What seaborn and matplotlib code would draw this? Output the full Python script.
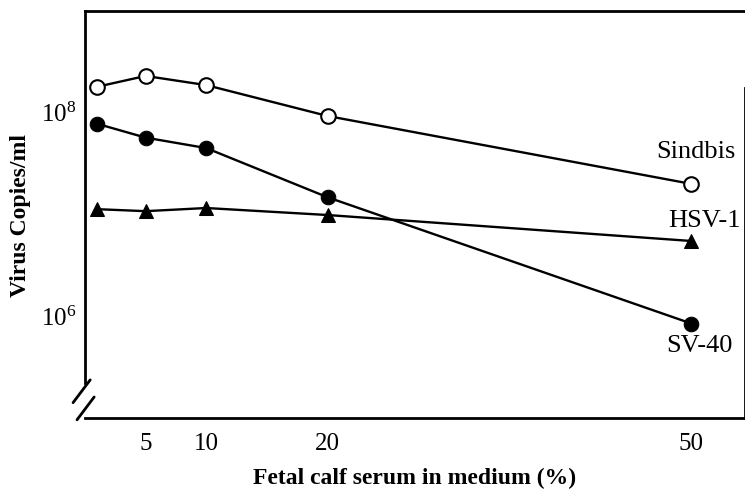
import numpy as np
import pandas as pd
import matplotlib
matplotlib.use("Agg")
import matplotlib.pyplot as plt
import seaborn as sns

# ---- data ----
serum_pct = [1, 5, 10, 20, 50]
sindbis = [1.8e8, 2.3e8, 1.87e8, 9.3e7, 2.0e7]
sv40 = [7.8e7, 5.7e7, 4.5e7, 1.48e7, 8.5e5]
hsv1 = [1.13e7, 1.08e7, 1.16e7, 9.9e6, 5.5e6]
x_ticks = [5, 10, 20, 50]
series_names = ["Sindbis", "HSV-1", "SV-40"]

sns.set_style("white")
plt.rcParams["font.family"] = ["Liberation Serif", "DejaVu Serif"]
plt.rcParams["text.color"] = "black"
plt.rcParams["axes.labelcolor"] = "black"
plt.rcParams["xtick.color"] = "black"
plt.rcParams["ytick.color"] = "black"
plt.rcParams["mathtext.fontset"] = "custom"
plt.rcParams["mathtext.rm"] = "Liberation Serif"
plt.rcParams["mathtext.it"] = "Liberation Serif:italic"
plt.rcParams["mathtext.bf"] = "Liberation Serif:bold"

df = pd.DataFrame({
    "serum": serum_pct * 3,
    "copies": sindbis + hsv1 + sv40,
    "virus": [series_names[0]] * 5 + [series_names[1]] * 5 + [series_names[2]] * 5,
})

fig = plt.figure(figsize=(7.45, 4.99), dpi=100)
ax = fig.add_axes([0.114, 0.162, 0.8857, 0.816])

styles = {
    "Sindbis": dict(marker="o", markerfacecolor="white", markeredgecolor="black",
                    markeredgewidth=1.5, markersize=10.5),
    "HSV-1": dict(marker="^", markerfacecolor="black", markeredgecolor="black",
                  markersize=10.5),
    "SV-40": dict(marker="o", markerfacecolor="black", markeredgecolor="black",
                  markersize=10.5),
}
for name in series_names:
    sub = df[df["virus"] == name]
    sns.lineplot(data=sub, x="serum", y="copies", ax=ax, color="black",
                 linewidth=1.7, legend=False, **styles[name])

ax.set_yscale("log")
ax.set_xlim(0, 54.4)
ax.set_ylim(1e5, 1e9)

ax.set_xticks(x_ticks)
ax.set_xticklabels([str(v) for v in x_ticks])
ax.set_yticks([1e6, 1e7, 1e8])
ax.set_yticklabels([r"$\mathrm{10^{6}}$", "", r"$\mathrm{10^{8}}$"])
ax.yaxis.set_minor_locator(matplotlib.ticker.NullLocator())

ax.tick_params(axis="x", direction="in", length=4, width=1.2, pad=11,
               labelsize=18, colors="black")
ax.tick_params(axis="y", direction="inout", length=6, width=1.2, pad=3,
               labelsize=18, colors="black")

for s in ax.spines.values():
    s.set_color("black")
    s.set_linewidth(2)
ax.spines["left"].set_bounds(2.2e5, 1e9)
ax.spines["right"].set_bounds(1e5, 1.75e8)

# axis-break marks (decoration)
kw = dict(transform=ax.transAxes, color="black", linewidth=2, clip_on=False)
ax.plot([-0.018, 0.008], [0.038, 0.094], **kw)
ax.plot([-0.012, 0.014], [-0.004, 0.052], **kw)

ax.set_xlabel("Fetal calf serum in medium (%)", fontsize=17, fontweight="bold",
              color="black")
ax.xaxis.set_label_coords(0.5, -0.122)
ax.set_ylabel("Virus Copies/ml", fontsize=17, fontweight="bold", color="black")
ax.yaxis.set_label_coords(-0.082, 0.497)

# series labels next to last points
ax.annotate("Sindbis", (serum_pct[-1], sindbis[-1]), xytext=(3, 23),
            textcoords="offset points", ha="center", va="center", fontsize=19,
            color="black", annotation_clip=False)
ax.annotate("HSV-1", (serum_pct[-1], hsv1[-1]), xytext=(-16.5, 14.5),
            textcoords="offset points", ha="left", va="center", fontsize=19,
            color="black", annotation_clip=False)
ax.annotate("SV-40", (serum_pct[-1], sv40[-1]), xytext=(6, -16),
            textcoords="offset points", ha="center", va="center", fontsize=19,
            color="black", annotation_clip=False)

fig.savefig("out.png", dpi=100)
